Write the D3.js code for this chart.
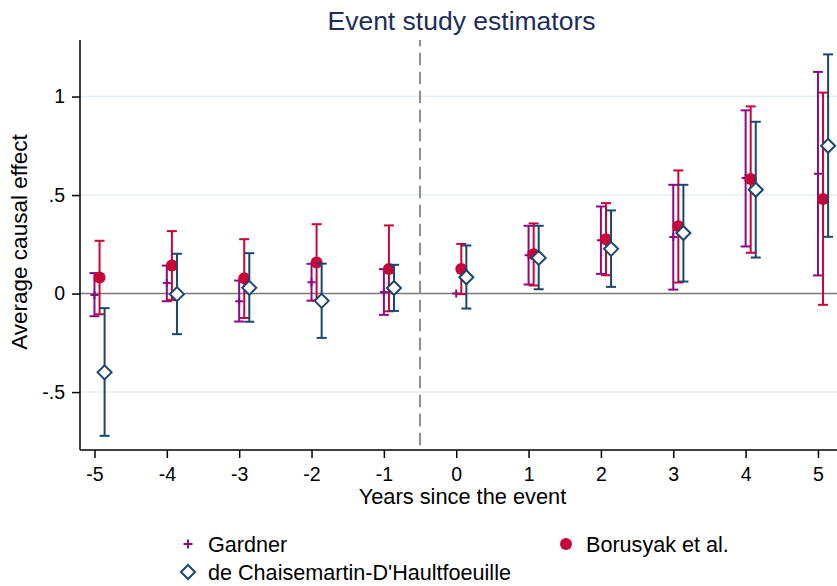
<!DOCTYPE html>
<html>
<head>
<meta charset="utf-8">
<script src="https://cdn.jsdelivr.net/npm/d3@7"></script>
<style>
  html, body { margin: 0; padding: 0; background: #fff; }
  text { font-family: "Liberation Sans", Arial, sans-serif; }
</style>
</head>
<body>
<script>
// data
var years = [-5, -4, -3, -2, -1, 0, 1, 2, 3, 4, 5];

var gardnerEst = [-0.007, 0.053, -0.039, 0.058, 0.008, 0.000, 0.195, 0.271, 0.287, 0.586, 0.608];
var gardnerLo  = [-0.115, -0.039, -0.142, -0.036, -0.108, 0.000, 0.046, 0.100, 0.020, 0.239, 0.092];
var gardnerHi  = [0.104, 0.142, 0.066, 0.151, 0.124, 0.000, 0.344, 0.442, 0.552, 0.930, 1.125];

var borusyakEst = [0.081, 0.142, 0.078, 0.158, 0.125, 0.125, 0.200, 0.276, 0.342, 0.581, 0.480];
var borusyakLo  = [-0.105, -0.033, -0.124, -0.036, -0.090, -0.003, 0.041, 0.093, 0.056, 0.207, -0.057];
var borusyakHi  = [0.268, 0.317, 0.276, 0.352, 0.346, 0.252, 0.356, 0.459, 0.625, 0.950, 1.020];

var dcdhEst = [-0.400, -0.003, 0.029, -0.037, 0.028, 0.083, 0.181, 0.227, 0.307, 0.527, 0.750];
var dcdhLo  = [-0.722, -0.206, -0.143, -0.225, -0.088, -0.076, 0.022, 0.034, 0.061, 0.183, 0.288];
var dcdhHi  = [-0.074, 0.202, 0.205, 0.152, 0.146, 0.244, 0.344, 0.422, 0.552, 0.872, 1.214];

var yTicks = [-0.5, 0, 0.5, 1];
var yTickLabels = ["-.5", "0", ".5", "1"];

var seriesNames = ["Gardner", "Borusyak et al.", "de Chaisemartin-D'Haultfoeuille"];

// series table
var series = [
  {name: seriesNames[0], est: gardnerEst, lo: gardnerLo, hi: gardnerHi, shift: 0, color: "#8b0a8b", symbol: "plus"},
  {name: seriesNames[1], est: borusyakEst, lo: borusyakLo, hi: borusyakHi, shift: 0.07, color: "#c80537", symbol: "dot"},
  {name: seriesNames[2], est: dcdhEst, lo: dcdhLo, hi: dcdhHi, shift: 0.14, color: "#1a476f", symbol: "diamond"}
];

var W = 837, H = 586;
var plot = {left: 80, right: 837, top: 40, bottom: 450};

var x = d3.scaleLinear().domain([-5.2, 5.263]).range([plot.left, plot.right]);
var y = d3.scaleLinear().domain([-0.794, 1.287]).range([plot.bottom, plot.top]);

var svg = d3.select("body").append("svg")
    .attr("width", W)
    .attr("height", H);

// grid lines
svg.append("g").selectAll("line")
    .data(yTicks.filter(function(d) { return d !== 0; }))
  .enter().append("line")
    .attr("x1", plot.left).attr("x2", plot.right)
    .attr("y1", function(d) { return y(d); })
    .attr("y2", function(d) { return y(d); })
    .attr("stroke", "#e6eef1")
    .attr("stroke-width", 1.5);

// zero line
svg.append("line")
    .attr("x1", plot.left).attr("x2", plot.right)
    .attr("y1", y(0)).attr("y2", y(0))
    .attr("stroke", "#7a7a7a")
    .attr("stroke-width", 1.6);

// event line
svg.append("line")
    .attr("x1", x(-0.5)).attr("x2", x(-0.5))
    .attr("y1", plot.top).attr("y2", plot.bottom)
    .attr("stroke", "#8e8e8e")
    .attr("stroke-width", 2)
    .attr("stroke-dasharray", "12.5,6.5")
    .attr("stroke-dashoffset", 6.3);

// axes
var yAxis = d3.axisLeft(y)
    .tickValues(yTicks)
    .tickFormat(function(d, i) { return yTickLabels[i]; })
    .tickSize(8)
    .tickPadding(7);

var xAxis = d3.axisBottom(x)
    .tickValues(years)
    .tickFormat(function(d) { return String(d); })
    .tickSize(8)
    .tickPadding(9);

var gY = svg.append("g")
    .attr("transform", "translate(" + plot.left + ",0)")
    .call(yAxis);

var gX = svg.append("g")
    .attr("transform", "translate(0," + plot.bottom + ")")
    .call(xAxis);

[gX, gY].forEach(function(g) {
  g.select(".domain").attr("stroke", "#000").attr("stroke-width", 1.5)
    .attr("d", g === gX ? "M" + plot.left + ",0H" + plot.right : "M0," + plot.top + "V" + plot.bottom);
  g.selectAll(".tick line").attr("stroke", "#000").attr("stroke-width", 1.5);
  g.selectAll(".tick text")
    .attr("fill", "#000")
    .style("font-size", "19.5px")
    .style("font-family", "'Liberation Sans', Arial, sans-serif");
});

// error bars and markers
var capHalf = 5;

series.forEach(function(s) {
  var g = svg.append("g");
  var rows = years.map(function(yr, i) {
    return {x: yr + s.shift, est: s.est[i], lo: s.lo[i], hi: s.hi[i]};
  });

  var bars = g.selectAll(".bar").data(rows.filter(function(d) { return d.hi > d.lo; }))
    .enter().append("g");
  bars.append("line")
    .attr("x1", function(d) { return x(d.x); })
    .attr("x2", function(d) { return x(d.x); })
    .attr("y1", function(d) { return y(d.lo); })
    .attr("y2", function(d) { return y(d.hi); });
  bars.append("line")
    .attr("x1", function(d) { return x(d.x) - capHalf; })
    .attr("x2", function(d) { return x(d.x) + capHalf; })
    .attr("y1", function(d) { return y(d.lo); })
    .attr("y2", function(d) { return y(d.lo); });
  bars.append("line")
    .attr("x1", function(d) { return x(d.x) - capHalf; })
    .attr("x2", function(d) { return x(d.x) + capHalf; })
    .attr("y1", function(d) { return y(d.hi); })
    .attr("y2", function(d) { return y(d.hi); });
  bars.selectAll("line").attr("stroke", s.color).attr("stroke-width", 2);

  drawMarker(g, rows, s);
});

function markerPath(sym) {
  if (sym === "plus") return "M-4,0H4M0,-4V4";
  if (sym === "diamond") return "M0,-7L7,0L0,7L-7,0Z";
  return null;
}

function drawMarker(g, rows, s) {
  if (s.symbol === "dot") {
    g.selectAll(".pt").data(rows).enter().append("circle")
      .attr("cx", function(d) { return x(d.x); })
      .attr("cy", function(d) { return y(d.est); })
      .attr("r", 6)
      .attr("fill", s.color);
  } else {
    g.selectAll(".pt").data(rows).enter().append("path")
      .attr("transform", function(d) { return "translate(" + x(d.x) + "," + y(d.est) + ")"; })
      .attr("d", markerPath(s.symbol))
      .attr("fill", s.symbol === "diamond" ? "#fff" : "none")
      .attr("stroke", s.color)
      .attr("stroke-width", 2);
  }
}

// titles
svg.append("text")
    .attr("x", (plot.left + plot.right) / 2 + 3)
    .attr("y", 30)
    .attr("text-anchor", "middle")
    .attr("fill", "#1c2d5b")
    .style("font-size", "26.5px")
    .text("Event study estimators");

svg.append("text")
    .attr("x", (plot.left + plot.right) / 2 + 4)
    .attr("y", 504)
    .attr("text-anchor", "middle")
    .attr("fill", "#000")
    .style("font-size", "21.8px")
    .text("Years since the event");

svg.append("text")
    .attr("transform", "translate(27,242) rotate(-90)")
    .attr("text-anchor", "middle")
    .attr("fill", "#000")
    .style("font-size", "22.5px")
    .text("Average causal effect");

// legend
var legendPos = [[188, 544], [566, 544], [188, 572]];
var legend = svg.append("g").selectAll("g")
    .data(series)
  .enter().append("g")
    .attr("transform", function(d, i) { return "translate(" + legendPos[i][0] + "," + legendPos[i][1] + ")"; });

legend.each(function(s) {
  var g = d3.select(this);
  if (s.symbol === "dot") {
    g.append("circle").attr("r", 6).attr("fill", s.color);
  } else if (s.symbol === "plus") {
    g.append("path").attr("d", "M-4.5,0H4.5M0,-4.5V4.5").attr("stroke", s.color).attr("stroke-width", 2);
  } else {
    g.append("path").attr("d", "M0,-7L7,0L0,7L-7,0Z").attr("fill", "#fff").attr("stroke", s.color).attr("stroke-width", 2);
  }
  g.append("text")
    .attr("x", 20)
    .attr("dy", "0.36em")
    .attr("fill", "#000")
    .style("font-size", "21.6px")
    .text(s.name);
});
</script>
</body>
</html>
